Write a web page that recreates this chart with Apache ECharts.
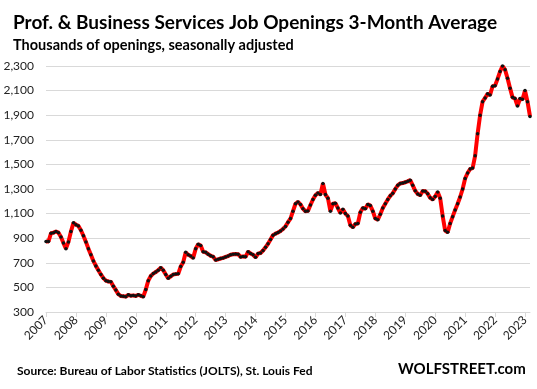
<!DOCTYPE html>
<html><head><meta charset="utf-8">
<script src="https://cdn.jsdelivr.net/npm/echarts@6/dist/echarts.min.js"></script>
<style>html,body{margin:0;padding:0;background:#fff}#c{width:537px;height:389px}</style>
</head><body><div id="c"></div>
<script>
const years = [2007,2008,2009,2010,2011,2012,2013,2014,2015,2016,2017,2018,2019,2020,2021,2022,2023];
const v2007 = [873, 873, 940, 945, 955, 945, 910, 860, 815, 870, 955, 1025];
const v2008 = [1010, 1000, 965, 920, 870, 815, 765, 715, 675, 640, 605, 575];
const v2009 = [555, 548, 545, 510, 478, 445, 430, 428, 425, 440, 432, 435];
const v2010 = [430, 440, 432, 425, 483, 555, 593, 612, 625, 640, 660, 640];
const v2011 = [605, 574, 590, 605, 608, 610, 670, 705, 785, 765, 755, 740];
const v2012 = [815, 850, 840, 790, 785, 770, 757, 750, 722, 728, 735, 740];
const v2013 = [748, 755, 765, 770, 772, 770, 748, 752, 749, 790, 775, 765];
const v2014 = [745, 775, 780, 800, 826, 855, 890, 925, 937, 947, 958, 975];
const v2015 = [996, 1030, 1060, 1120, 1180, 1195, 1175, 1140, 1119, 1122, 1170, 1215];
const v2016 = [1250, 1268, 1255, 1345, 1255, 1225, 1120, 1180, 1185, 1145, 1105, 1135];
const v2017 = [1100, 1080, 1005, 990, 1015, 1020, 1110, 1145, 1140, 1175, 1165, 1120];
const v2018 = [1060, 1050, 1095, 1145, 1180, 1215, 1245, 1265, 1300, 1330, 1345, 1348];
const v2019 = [1355, 1362, 1372, 1330, 1285, 1260, 1250, 1284, 1282, 1262, 1228, 1215];
const v2020 = [1240, 1275, 1225, 1080, 962, 948, 1020, 1075, 1130, 1180, 1235, 1300];
const v2021 = [1385, 1430, 1463, 1470, 1570, 1750, 1900, 2010, 2040, 2075, 2065, 2135];
const v2022 = [2140, 2195, 2255, 2300, 2270, 2200, 2120, 2045, 2035, 1975, 2035, 2030];
const v2023 = [2100, 2010, 1890];
const yearValues = [v2007,v2008,v2009,v2010,v2011,v2012,v2013,v2014,v2015,v2016,v2017,v2018,v2019,v2020,v2021,v2022,v2023];

const categories = [];
const values = [];
yearValues.forEach((arr, i) => {
  arr.forEach((v, m) => {
    categories.push(years[i] + '-' + String(m + 1).padStart(2, '0'));
    values.push(v);
  });
});

const FONT = 'Lato';
const chart = echarts.init(document.getElementById('c'), null, {renderer: 'canvas'});
chart.setOption({
  animation: false,
  backgroundColor: '#ffffff',
  grid: {left: 46, right: 7, top: 66, bottom: 77, containLabel: false},
  title: [
    {text: 'Prof. & Business Services Job Openings 3-Month Average', left: 8, top: 8,
     textStyle: {fontFamily: FONT, fontWeight: 'bold', fontSize: 19, color: '#000'}},
    {text: 'Thousands of openings, seasonally adjusted', left: 8, top: 33,
     textStyle: {fontFamily: FONT, fontWeight: 'bold', fontSize: 14.5, color: '#000'}}
  ],
  graphic: [
    {type: 'text', left: 17, top: 365, style: {text: 'Source: Bureau of Labor Statistics (JOLTS), St. Louis Fed',
      font: 'bold 12px ' + FONT, fill: '#000'}},
    {type: 'text', left: 398, top: 362, style: {text: 'WOLFSTREET.com',
      font: 'bold 15px ' + FONT, fill: '#000'}}
  ],
  xAxis: {
    type: 'category', data: categories, boundaryGap: false,
    axisLine: {lineStyle: {color: '#d9d9d9', width: 1}},
    axisTick: {show: true, length: 5, interval: (i) => i % 12 === 0, lineStyle: {color: '#d9d9d9'}},
    axisLabel: {interval: (i) => i % 12 === 0, rotate: 45, formatter: (v) => v.slice(0, 4),
      fontFamily: FONT, fontSize: 12, color: '#222', margin: 6},
    splitLine: {show: false}
  },
  yAxis: {
    type: 'value', min: 300, max: 2300, interval: 200,
    axisLine: {show: false}, axisTick: {show: false},
    axisLabel: {formatter: (v) => v.toLocaleString('en-US'), fontFamily: FONT, fontSize: 12, color: '#222', margin: 12},
    splitLine: {lineStyle: {color: '#d9d9d9', width: 1}}
  },
  series: [{
    type: 'line', data: values,
    lineStyle: {color: '#ff0000', width: 4},
    symbol: 'circle', symbolSize: 3.5,
    itemStyle: {color: '#111', borderWidth: 0},
    showAllSymbol: true
  }]
});
</script></body></html>
